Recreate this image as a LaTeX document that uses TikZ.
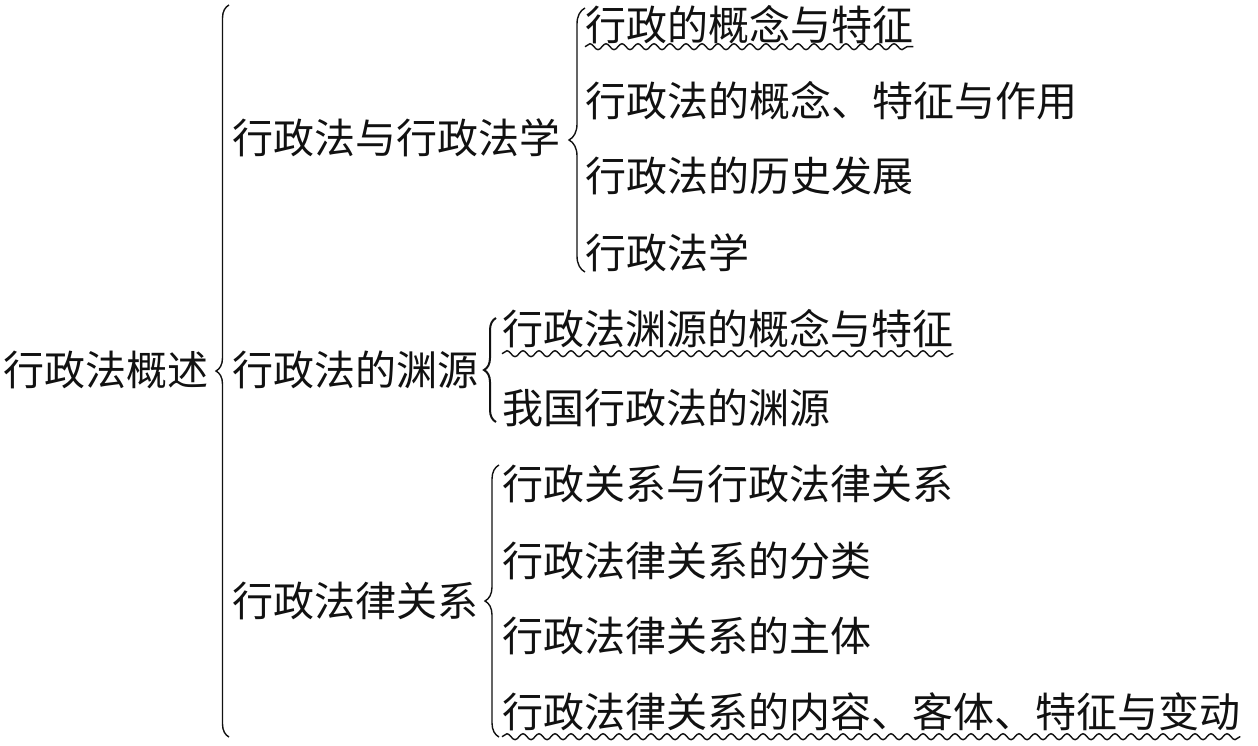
\documentclass[tikz,border=0pt]{standalone}
\usepackage{fontspec}
\newfontfamily\cjk{Noto Sans CJK SC}
\usetikzlibrary{calc,decorations.pathreplacing,decorations.pathmorphing}
\definecolor{OLInk}{HTML}{111111}
\tikzset{
  term/.style={anchor=west,inner sep=0pt,text=OLInk,
               font=\cjk\fontsize{41}{41}\selectfont,text height=36pt,text depth=5pt},
  bracket/.style={decorate,decoration={brace,amplitude=#1},draw=OLInk,line width=1.4pt},
  bracket/.default=12,
  wavy/.style={decorate,decoration={snake,segment length=16pt,amplitude=3pt},
               draw=OLInk,line width=1.4pt},
}

\begin{document}
\begin{tikzpicture}[x=1pt,y=-1pt]
  \useasboundingbox (0,0) rectangle (1258,746);

  % root and first level
  \node[term] (root) at (3,370) {行政法概述};
  \node[term] (law) at (232,138) {行政法与行政法学};
  \node[term] (src) at (232,370) {行政法的渊源};
  \node[term] (rel) at (232,601) {行政法律关系};

  % second level
  \node[term] (law1) at (585,25) {行政的概念与特征};
  \node[term] (law2) at (585,101) {行政法的概念、特征与作用};
  \node[term] (law3) at (585,176) {行政法的历史发展};
  \node[term] (law4) at (585,253) {行政法学};
  \node[term] (src1) at (502,329) {行政法渊源的概念与特征};
  \node[term] (src2) at (502,408) {我国行政法的渊源};
  \node[term] (rel1) at (502,484) {行政关系与行政法律关系};
  \node[term] (rel2) at (502,561) {行政法律关系的分类};
  \node[term] (rel3) at (502,636) {行政法律关系的主体};
  \node[term] (rel4) at (502,712) {行政法律关系的内容、客体、特征与变动};

  % braces
  \coordinate (roottop) at (229,5);
  \coordinate (rootbot) at (229,737);
  \coordinate (lawtop) at (585,8);
  \coordinate (lawbot) at (585,272);
  \coordinate (srctop) at (496,318);
  \coordinate (srcbot) at (496,422);
  \coordinate (reltop) at (499,465);
  \coordinate (relbot) at (499,737);
  \draw[bracket=13] (rootbot) -- (roottop);
  \draw[bracket=16] (lawbot) -- (lawtop);
  \draw[bracket=12,line width=2pt] (srcbot) -- (srctop);
  \draw[bracket=14] (relbot) -- (reltop);

  % wavy underlines
  \draw[wavy] ($(law1.south west)+(0,1)$) -- ($(law1.south east)+(0,1)$);
  \draw[wavy] ($(src1.south west)+(0,4)$) -- ($(src1.south east)+(0,4)$);
  \draw[wavy] ($(rel4.south west)+(0,4)$) -- ($(rel4.south east)+(0,4)$);
\end{tikzpicture}
\end{document}
